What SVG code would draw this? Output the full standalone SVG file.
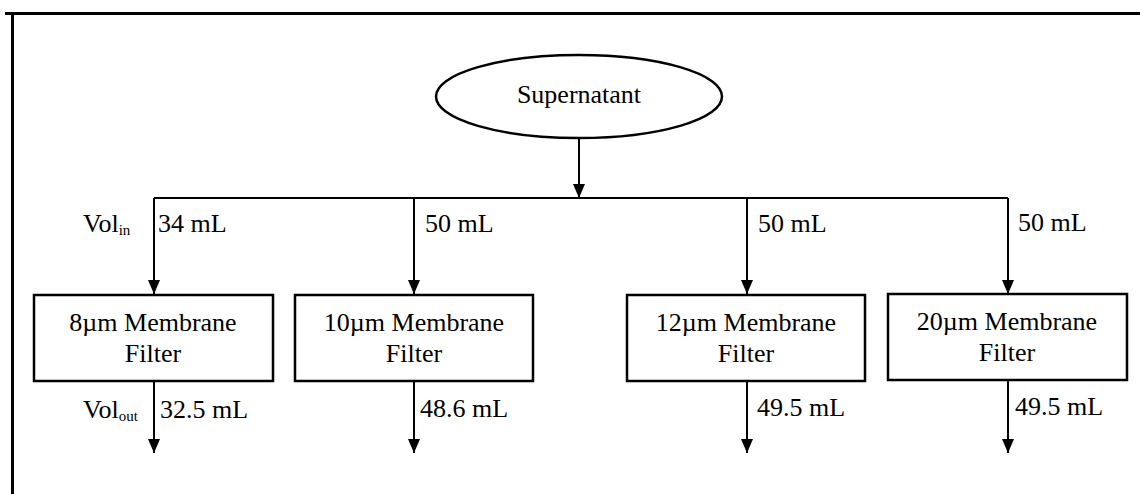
<svg xmlns="http://www.w3.org/2000/svg" width="1140" height="494" viewBox="0 0 1140 494">
<style>
.t{font-family:"Liberation Serif","Times New Roman","DejaVu Serif",Times,serif;font-size:26px;fill:#000}
.c{text-anchor:middle}
.sub{font-size:15px}
.box{fill:#fff;stroke:#000;stroke-width:2.5}
.ln{stroke:#000;stroke-width:2;fill:none}
</style>
<defs>
<marker id="ad" viewBox="0 0 14 12" refX="14" refY="6" markerWidth="14" markerHeight="12" markerUnits="userSpaceOnUse" orient="auto">
<path d="M0,0 L14,6 L0,12 Z" fill="#000"/>
</marker>
</defs>
<rect width="1140" height="494" fill="#fff"/>
<g id="frame">
<line x1="5" y1="13.5" x2="1140" y2="13.5" stroke="#000" stroke-width="3"/>
<line x1="12.5" y1="12" x2="12.5" y2="494" stroke="#000" stroke-width="3"/>
</g>
<g id="connectors">
<line class="ln" x1="579" y1="138" x2="579" y2="198" marker-end="url(#ad)"/>
<line class="ln" x1="154" y1="198" x2="1008" y2="198"/>
<line class="ln" x1="154" y1="198" x2="154" y2="294" marker-end="url(#ad)"/>
<line class="ln" x1="414" y1="198" x2="414" y2="294" marker-end="url(#ad)"/>
<line class="ln" x1="747" y1="198" x2="747" y2="294" marker-end="url(#ad)"/>
<line class="ln" x1="1008" y1="198" x2="1008" y2="294" marker-end="url(#ad)"/>
<line class="ln" x1="154" y1="381" x2="154" y2="453" marker-end="url(#ad)"/>
<line class="ln" x1="414" y1="381" x2="414" y2="453" marker-end="url(#ad)"/>
<line class="ln" x1="747" y1="381" x2="747" y2="453" marker-end="url(#ad)"/>
<line class="ln" x1="1008" y1="381" x2="1008" y2="453" marker-end="url(#ad)"/>
<text class="t" x="83" y="232">Vol<tspan class="sub" dy="3">in</tspan></text>
<text class="t" x="158" y="232">34 mL</text>
<text class="t" x="425" y="232">50 mL</text>
<text class="t" x="758" y="232">50 mL</text>
<text class="t" x="1018" y="231">50 mL</text>
<text class="t" x="83" y="418">Vol<tspan class="sub" dy="3">out</tspan></text>
<text class="t" x="160" y="418">32.5 mL</text>
<text class="t" x="420" y="417">48.6 mL</text>
<text class="t" x="757" y="416">49.5 mL</text>
<text class="t" x="1015" y="415">49.5 mL</text>
</g>
<g id="supernatant">
<ellipse cx="579" cy="96.5" rx="143" ry="41.5" fill="#fff" stroke="#000" stroke-width="2.5"/>
<text class="t c" x="579" y="103">Supernatant</text>
</g>
<g id="filter8">
<rect class="box" x="34" y="295" width="239" height="86"/>
<text class="t c" x="153" y="331">8µm Membrane</text>
<text class="t c" x="153" y="362">Filter</text>
</g>
<g id="filter10">
<rect class="box" x="295" y="295" width="238" height="86"/>
<text class="t c" x="414" y="331">10µm Membrane</text>
<text class="t c" x="414" y="362">Filter</text>
</g>
<g id="filter12">
<rect class="box" x="627" y="295" width="238" height="86"/>
<text class="t c" x="746" y="331">12µm Membrane</text>
<text class="t c" x="746" y="362">Filter</text>
</g>
<g id="filter20">
<rect class="box" x="888" y="294" width="239" height="86"/>
<text class="t c" x="1007" y="330">20µm Membrane</text>
<text class="t c" x="1007" y="361">Filter</text>
</g>
</svg>
